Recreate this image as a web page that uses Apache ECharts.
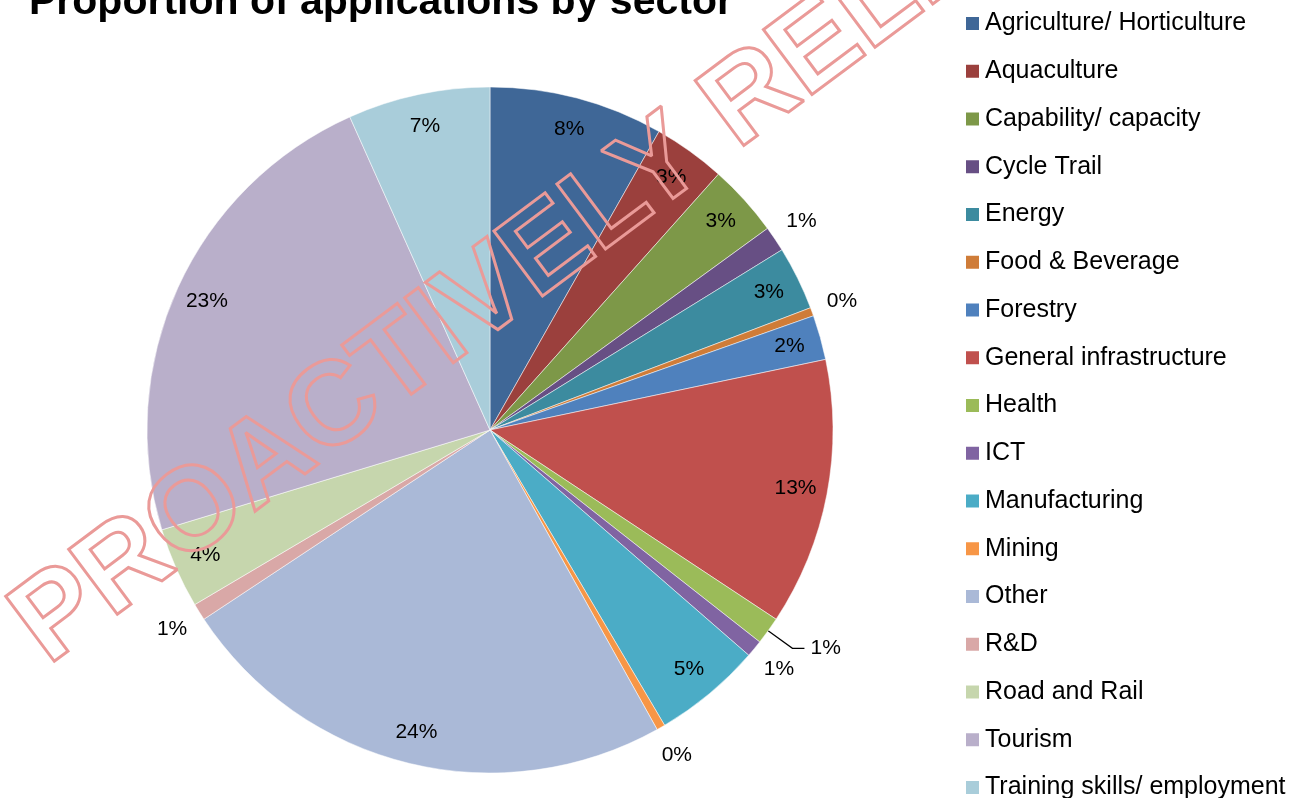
<!DOCTYPE html>
<html>
<head>
<meta charset="utf-8">
<title>Proportion of applications by sector</title>
<script src="https://cdn.jsdelivr.net/npm/echarts@6/dist/echarts.min.js"></script>
<style>
html, body {margin: 0; padding: 0; background: #fff;}
#chart {width: 1290px; height: 798px;}
</style>
</head>
<body>
<div id="chart"></div>
<script>
// sectors, in legend order (clockwise from 12 o'clock)
var sectors = ['Agriculture/ Horticulture', 'Aquaculture', 'Capability/ capacity', 'Cycle Trail',
	'Energy', 'Food & Beverage', 'Forestry', 'General infrastructure', 'Health', 'ICT',
	'Manufacturing', 'Mining', 'Other', 'R&D', 'Road and Rail', 'Tourism', 'Training skills/ employment'];
// share of applications, percent
var shares = [8.2, 3.4, 3.4, 1.2, 3.0, 0.4, 2.1, 12.6, 1.3, 0.8, 5.1, 0.4, 23.8, 0.8, 3.8, 23.0, 6.7];
var sectorColors = ['#3F6797', '#9B403D', '#7D9848', '#674F84', '#3C8B9F', '#CF7C38',
	'#4F81BD', '#C0504D', '#9BBB59', '#8064A2', '#4BACC6', '#F79646',
	'#AAB9D7', '#D9A8A7', '#C6D6AD', '#B9AFCA', '#A9CDDA'];

var chartTitle = 'Proportion of applications by sector';
var watermark = 'PROACTIVELY RELEASED';

var FONT = 'Liberation Sans';
// small slices get their label outside the pie
var outerLabels = ['Cycle Trail', 'Food & Beverage', 'ICT', 'Mining', 'R&D'];
var leaderLabels = ['Health'];

function pctLabel(p){
	return Math.round(p.percent) + '%';
}

var mainData = [], innerData = [], outerData = [];
for (var i=0; i<sectors.length; i++){
	mainData.push({name: sectors[i], value: shares[i], itemStyle: {color: sectorColors[i]}});

	var inner = {name: sectors[i], value: shares[i]};
	if (outerLabels.indexOf(sectors[i]) >= 0){
		inner.label = {show: false};
	} else if (leaderLabels.indexOf(sectors[i]) >= 0){
		inner.label = {show: true, position: 'outside', distanceToLabelLine: 6};
		inner.labelLine = {show: true, length: 30, length2: 12, lineStyle: {color: '#000', width: 1.2}};
	}
	innerData.push(inner);

	var outer = {name: sectors[i], value: shares[i]};
	outer.label = {show: outerLabels.indexOf(sectors[i]) >= 0};
	outerData.push(outer);
}

var labelText = {color: '#000', fontSize: 21, fontFamily: FONT};

var chart = echarts.init(document.getElementById('chart'), null, {renderer: 'canvas'});
var option = {
	animation: false,
	backgroundColor: '#fff',
	title: {
		text: chartTitle,
		left: 29,
		top: -18,
		padding: 0,
		textStyle: {fontSize: 41, fontWeight: 'bold', color: '#000', fontFamily: FONT}
	},
	legend: {
		orient: 'vertical',
		left: 964,
		top: 11,
		height: 800,
		padding: 0,
		icon: 'rect',
		itemWidth: 15,
		itemHeight: 15,
		itemGap: 22.75,
		selectedMode: false,
		data: sectors,
		textStyle: {fontSize: 25, color: '#000', fontFamily: FONT}
	},
	series: [{
		// the coloured pie
		type: 'pie',
		name: 'main',
		center: [490, 430],
		radius: 343,
		startAngle: 90,
		clockwise: true,
		avoidLabelOverlap: false,
		label: {show: false},
		labelLine: {show: false},
		itemStyle: {borderColor: '#fff', borderWidth: 0.5},
		emphasis: {disabled: true},
		data: mainData
	}, {
		// transparent ring carrying the in-slice labels
		type: 'pie',
		name: 'inner',
		silent: true,
		center: [490, 430],
		radius: [273, 343],
		startAngle: 90,
		avoidLabelOverlap: false,
		itemStyle: {color: 'rgba(0,0,0,0)'},
		label: Object.assign({show: true, position: 'inside', formatter: pctLabel}, labelText),
		labelLine: {show: false},
		emphasis: {disabled: true},
		data: innerData
	}, {
		// transparent ring outside the pie for the tiny slices
		type: 'pie',
		name: 'outer',
		silent: true,
		center: [490, 430],
		radius: [352, 392],
		startAngle: 90,
		avoidLabelOverlap: false,
		itemStyle: {color: 'rgba(0,0,0,0)'},
		label: Object.assign({position: 'inside', formatter: pctLabel}, labelText),
		labelLine: {show: false},
		emphasis: {disabled: true},
		data: outerData
	}],
	graphic: [{
		type: 'text',
		silent: true,
		z: 100,
		x: 28.5,
		y: 640,
		rotation: 36.8 * Math.PI / 180,
		style: {
			text: watermark,
			fontSize: 118,
			fontWeight: 'bold',
			fontFamily: FONT,
			fill: 'rgba(0,0,0,0)',
			stroke: '#EA9A98',
			lineWidth: 3,
			lineJoin: 'round',
			align: 'left',
			verticalAlign: 'middle'
		}
	}]
};
chart.setOption(option);
</script>
</body>
</html>
